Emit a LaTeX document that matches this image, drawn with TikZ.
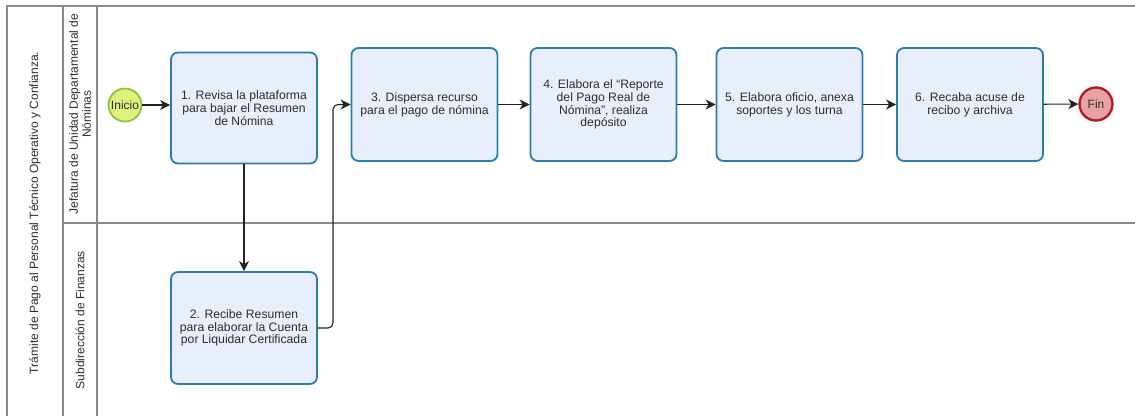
\documentclass[tikz,border=0pt]{standalone}
\usepackage{fontspec}
\setmainfont{Liberation Sans}
\usetikzlibrary{arrows.meta}
\definecolor{framegray}{HTML}{8A8A8A}
\definecolor{taskborder}{HTML}{2A7DAE}
\definecolor{taskfill}{HTML}{E8EEFB}
\definecolor{startfill}{HTML}{DDF27C}
\definecolor{startborder}{HTML}{8CC63F}
\definecolor{endfill}{HTML}{E9A2A3}
\definecolor{endborder}{HTML}{B01C22}
\definecolor{txt}{HTML}{2E2E2E}
\definecolor{flow}{HTML}{222222}
\tikzset{
  frameline/.style={draw=framegray, line width=1.3pt},
  task/.style={draw=taskborder, fill=taskfill, line width=1.8pt, rounded corners=7pt,
    minimum width=146pt, minimum height=113pt, align=center, text=txt,
    font=\fontsize{12.2}{12.8}\selectfont, inner sep=2pt},
  startev/.style={circle, draw=startborder, fill=startfill, line width=1.8pt,
    minimum size=33pt, inner sep=0pt, text=txt, font=\fontsize{12}{12}\selectfont},
  endev/.style={circle, draw=endborder, fill=endfill, line width=2.4pt,
    minimum size=33pt, inner sep=0pt, text=txt, font=\fontsize{12}{12}\selectfont},
  lanelabel/.style={rotate=90, align=center, text=txt, font=\fontsize{12}{13}\selectfont},
  flowarrow/.style={draw=flow, line width=1.1pt, -{Stealth[length=10pt,width=10pt,inset=3pt]}}
}
\begin{document}
\begin{tikzpicture}[x=1pt,y=-1pt]
  \useasboundingbox (0,0) rectangle (1135,416);
  % pool and lane frame
  \draw[frameline] (1135,6) -- (7,6) -- (7,416);
  \draw[frameline] (63,6) -- (63,416);
  \draw[frameline] (97,6) -- (97,416);
  \draw[frameline] (63,223) -- (1135,223);
  % pool and lane titles
  \node[lanelabel] (pool) at (35,213) {Trámite de Pago al Personal Técnico Operativo y Confianza.};
  \node[lanelabel] (laneA) at (80,114) {Jefatura de Unidad Departamental de\\Nóminas};
  \node[lanelabel] (laneB) at (80,320) {Subdirección de Finanzas};
  % events
  \node[startev] (inicio) at (125,105) {Inicio};
  \node[endev] (fin) at (1096,104) {Fin};
  % tasks
  \node[task, minimum height=111pt] (t1) at (244,108) {1. Revisa la plataforma\\para bajar el Resumen\\de Nómina};
  \node[task, minimum height=112pt] (t2) at (244,328) {2. Recibe Resumen\\para elaborar la Cuenta\\por Liquidar Certificada};
  \node[task] (t3) at (424.5,104.5) {3. Dispersa recurso\\para el pago de nómina};
  \node[task] (t4) at (603.5,104.5) {4. Elabora el “Reporte\\del Pago Real de\\Nómina”, realiza\\depósito};
  \node[task] (t5) at (789.5,104.5) {5. Elabora oficio, anexa\\soportes y los turna};
  \node[task] (t6) at (970,104.5) {6. Recaba acuse de\\recibo y archiva};
  % sequence flows
  \draw[flowarrow] (inicio) -- (inicio -| t1.west);
  \draw[flowarrow] (t1) -- (t2);
  \coordinate (bend) at (333,0);
  \draw[flowarrow, rounded corners=5pt] (t2.east) -- (t2.east -| bend) -- (t3.west -| bend) -- (t3.west);
  \draw[flowarrow] (t3) -- (t4);
  \draw[flowarrow] (t4) -- (t5);
  \draw[flowarrow] (t5) -- (t6);
  \draw[flowarrow] (t6) -- (fin);
\end{tikzpicture}
\end{document}
